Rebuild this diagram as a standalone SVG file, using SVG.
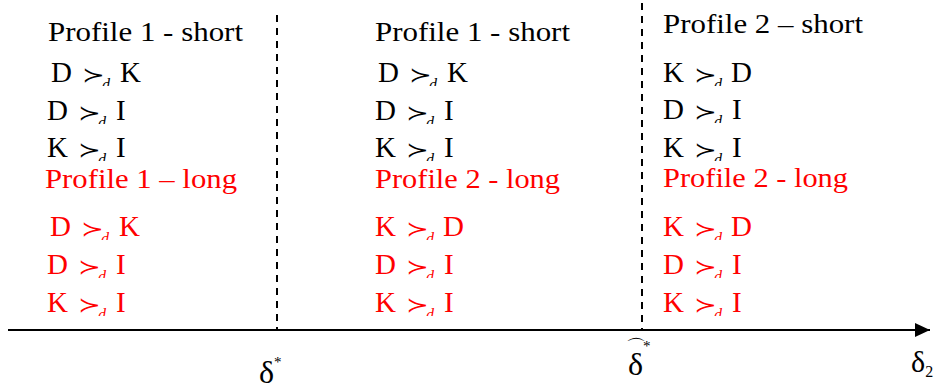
<svg xmlns="http://www.w3.org/2000/svg" width="936" height="390" viewBox="0 0 936 390" font-family="'Liberation Serif', serif">
<style>
text{font-family:'Liberation Serif',serif;font-size:29px;fill:#000}
.red text{fill:#ff0000}
.ttl{font-size:28px}
.rel{font-family:'DejaVu Sans','DejaVu Serif',sans-serif;font-size:26px}
.sub{font-size:16px;font-style:italic}
.axis{stroke:#000;stroke-width:2;fill:none}
.dash{stroke:#000;stroke-width:2;stroke-dasharray:7 6;fill:none}
.lbl{font-size:32px}
.sup{font-size:15px}
.hat{font-family:'DejaVu Sans',sans-serif;font-size:20px}
</style>
<defs>
<clipPath id="rc"><rect x="-5" y="-36" width="110" height="40"/></clipPath>
<marker id="ah" markerWidth="16" markerHeight="14" refX="15" refY="7" orient="auto" markerUnits="userSpaceOnUse"><polygon points="0,0 15,7 0,14" fill="#000"/></marker>
</defs>

<g id="connectors">
<line class="axis" x1="8" y1="330" x2="930" y2="330" marker-end="url(#ah)"/>
<line class="dash" x1="277" y1="15" x2="277" y2="330"/>
<line class="dash" x1="642" y1="3" x2="642" y2="330"/>
</g>

<g id="col1">
<text class="ttl" x="48" y="41" textLength="195" lengthAdjust="spacingAndGlyphs">Profile 1 - short</text>
<g transform="translate(51,82)" clip-path="url(#rc)"><text x="0" y="0">D</text><text class="rel" transform="translate(31,0) scale(1.05,0.8)">≻</text><text class="sub" x="51" y="8">d</text><text x="69" y="0">K</text></g>
<g transform="translate(47,120)" clip-path="url(#rc)"><text x="0" y="0">D</text><text class="rel" transform="translate(31,0) scale(1.05,0.8)">≻</text><text class="sub" x="51" y="8">d</text><text x="69" y="0">I</text></g>
<g transform="translate(47,157)" clip-path="url(#rc)"><text x="0" y="0">K</text><text class="rel" transform="translate(31,0) scale(1.05,0.8)">≻</text><text class="sub" x="51" y="8">d</text><text x="69" y="0">I</text></g>
<g class="red">
<text class="ttl" x="45" y="188" textLength="192" lengthAdjust="spacingAndGlyphs">Profile 1 – long</text>
<g transform="translate(50,236)" clip-path="url(#rc)"><text x="0" y="0">D</text><text class="rel" transform="translate(31,0) scale(1.05,0.8)">≻</text><text class="sub" x="51" y="8">d</text><text x="69" y="0">K</text></g>
<g transform="translate(47,274)" clip-path="url(#rc)"><text x="0" y="0">D</text><text class="rel" transform="translate(31,0) scale(1.05,0.8)">≻</text><text class="sub" x="51" y="8">d</text><text x="69" y="0">I</text></g>
<g transform="translate(47,312)" clip-path="url(#rc)"><text x="0" y="0">K</text><text class="rel" transform="translate(31,0) scale(1.05,0.8)">≻</text><text class="sub" x="51" y="8">d</text><text x="69" y="0">I</text></g>
</g>
</g>

<g id="col2">
<text class="ttl" x="375" y="41" textLength="195" lengthAdjust="spacingAndGlyphs">Profile 1 - short</text>
<g transform="translate(378,82)" clip-path="url(#rc)"><text x="0" y="0">D</text><text class="rel" transform="translate(31,0) scale(1.05,0.8)">≻</text><text class="sub" x="51" y="8">d</text><text x="69" y="0">K</text></g>
<g transform="translate(375,120)" clip-path="url(#rc)"><text x="0" y="0">D</text><text class="rel" transform="translate(31,0) scale(1.05,0.8)">≻</text><text class="sub" x="51" y="8">d</text><text x="69" y="0">I</text></g>
<g transform="translate(375,157)" clip-path="url(#rc)"><text x="0" y="0">K</text><text class="rel" transform="translate(31,0) scale(1.05,0.8)">≻</text><text class="sub" x="51" y="8">d</text><text x="69" y="0">I</text></g>
<g class="red">
<text class="ttl" x="375" y="188" textLength="185" lengthAdjust="spacingAndGlyphs">Profile 2 - long</text>
<g transform="translate(375,236)" clip-path="url(#rc)"><text x="0" y="0">K</text><text class="rel" transform="translate(31,0) scale(1.05,0.8)">≻</text><text class="sub" x="51" y="8">d</text><text x="68" y="0">D</text></g>
<g transform="translate(375,274)" clip-path="url(#rc)"><text x="0" y="0">D</text><text class="rel" transform="translate(31,0) scale(1.05,0.8)">≻</text><text class="sub" x="51" y="8">d</text><text x="69" y="0">I</text></g>
<g transform="translate(375,312)" clip-path="url(#rc)"><text x="0" y="0">K</text><text class="rel" transform="translate(31,0) scale(1.05,0.8)">≻</text><text class="sub" x="51" y="8">d</text><text x="69" y="0">I</text></g>
</g>
</g>

<g id="col3">
<text class="ttl" x="663" y="33" textLength="200" lengthAdjust="spacingAndGlyphs">Profile 2 – short</text>
<g transform="translate(663,82)" clip-path="url(#rc)"><text x="0" y="0">K</text><text class="rel" transform="translate(31,0) scale(1.05,0.8)">≻</text><text class="sub" x="51" y="8">d</text><text x="68" y="0">D</text></g>
<g transform="translate(663,119)" clip-path="url(#rc)"><text x="0" y="0">D</text><text class="rel" transform="translate(31,0) scale(1.05,0.8)">≻</text><text class="sub" x="51" y="8">d</text><text x="69" y="0">I</text></g>
<g transform="translate(663,157)" clip-path="url(#rc)"><text x="0" y="0">K</text><text class="rel" transform="translate(31,0) scale(1.05,0.8)">≻</text><text class="sub" x="51" y="8">d</text><text x="69" y="0">I</text></g>
<g class="red">
<text class="ttl" x="663" y="187" textLength="185" lengthAdjust="spacingAndGlyphs">Profile 2 - long</text>
<g transform="translate(663,236)" clip-path="url(#rc)"><text x="0" y="0">K</text><text class="rel" transform="translate(31,0) scale(1.05,0.8)">≻</text><text class="sub" x="51" y="8">d</text><text x="68" y="0">D</text></g>
<g transform="translate(663,274)" clip-path="url(#rc)"><text x="0" y="0">D</text><text class="rel" transform="translate(31,0) scale(1.05,0.8)">≻</text><text class="sub" x="51" y="8">d</text><text x="69" y="0">I</text></g>
<g transform="translate(663,312)" clip-path="url(#rc)"><text x="0" y="0">K</text><text class="rel" transform="translate(31,0) scale(1.05,0.8)">≻</text><text class="sub" x="51" y="8">d</text><text x="69" y="0">I</text></g>
</g>
</g>

<g id="axis-labels">
<text class="lbl" x="259" y="383">δ<tspan class="sup" dy="-16">*</tspan></text>
<text class="lbl" x="628" y="375">δ<tspan class="sup" dy="-24">*</tspan></text>
<text class="hat" x="626" y="354">⌒</text>
<text class="lbl" x="911" y="372" style="font-size:30px">δ<tspan class="sup" dy="5" style="font-size:16px">2</tspan></text>
</g>
</svg>
